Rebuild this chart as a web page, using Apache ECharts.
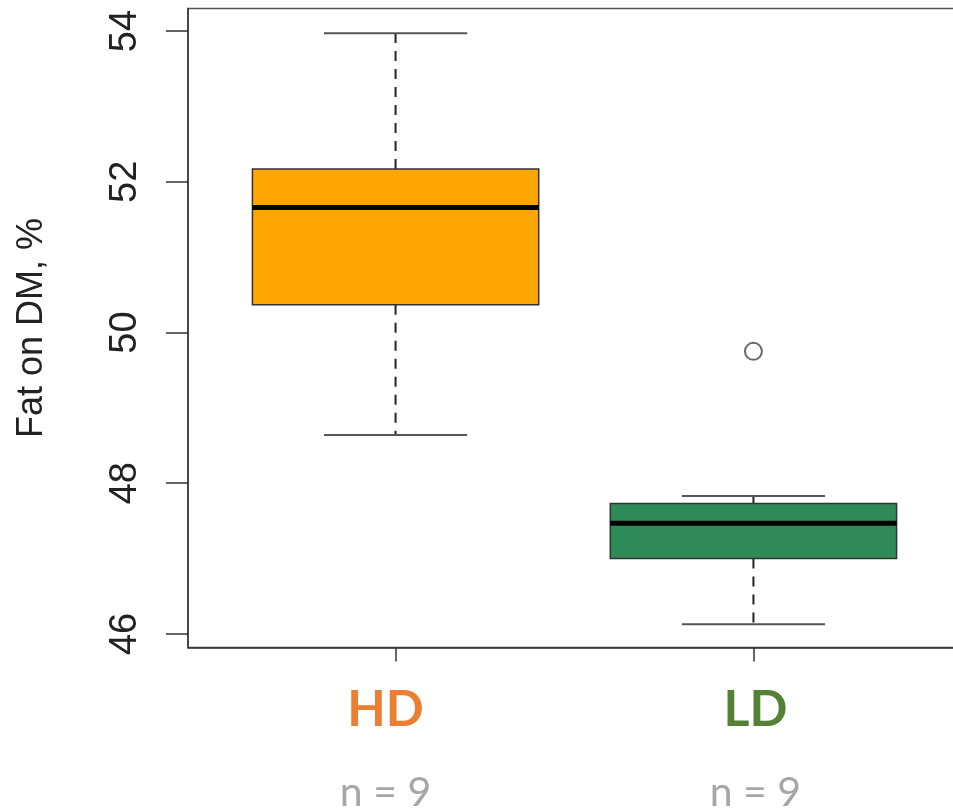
<!DOCTYPE html>
<html><head><meta charset="utf-8">
<script src="https://cdn.jsdelivr.net/npm/echarts@6/dist/echarts.min.js"></script>
<style>html,body{margin:0;padding:0;background:#fff}#c{width:953px;height:808px}</style>
</head><body><div id="c"></div>
<script>
// ---- data ----
const categories = ['HD', 'LD'];
const counts = [9, 9];
const whiskerLow = [48.64, 46.13];
const q1 = [50.37, 47.00];
const median = [51.66, 47.47];
const q3 = [52.17, 47.73];
const whiskerHigh = [53.97, 47.83];
const outlierGroup = ['LD'];
const outlierValue = [49.75];
const yTicks = [46, 48, 50, 52, 54];

// ---- styles ----
const fillColors = ['#FFA500', '#2E8B57'];
const labelColors = ['#ED7D31', '#548235'];
const labelShift = [-10, 2];

const boxData = categories.map((c, i) => [i + 1, whiskerLow[i], q1[i], median[i], q3[i], whiskerHigh[i]]);
const outlierData = outlierGroup.map((g, k) => [categories.indexOf(g) + 1, outlierValue[k]]);
const xTicks = categories.map((c, i) => i + 1);

function renderBox(params, api) {
  const x = api.value(0);
  const i = params.dataIndex;
  const pLo = api.coord([x, api.value(1)]);
  const pQ1 = api.coord([x, api.value(2)]);
  const pMed = api.coord([x, api.value(3)]);
  const pQ3 = api.coord([x, api.value(4)]);
  const pHi = api.coord([x, api.value(5)]);
  const boxW = api.size([0.8, 0])[0];
  const capW = api.size([0.4, 0])[0];
  const cx = pMed[0];
  const dashStyle = { stroke: '#222', lineWidth: 2, lineDash: [10, 8] };
  const capStyle = { stroke: '#555', lineWidth: 2 };
  return {
    type: 'group',
    children: [
      { type: 'line', shape: { x1: cx, y1: pQ3[1], x2: cx, y2: pHi[1] }, style: dashStyle },
      { type: 'line', shape: { x1: cx, y1: pQ1[1], x2: cx, y2: pLo[1] }, style: dashStyle },
      { type: 'line', shape: { x1: cx - capW / 2, y1: pHi[1], x2: cx + capW / 2, y2: pHi[1] }, style: capStyle },
      { type: 'line', shape: { x1: cx - capW / 2, y1: pLo[1], x2: cx + capW / 2, y2: pLo[1] }, style: capStyle },
      { type: 'rect', shape: { x: cx - boxW / 2, y: pQ3[1], width: boxW, height: pQ1[1] - pQ3[1] },
        style: { fill: fillColors[i], stroke: '#333', lineWidth: 1.5 } },
      { type: 'line', shape: { x1: cx - boxW / 2, y1: pMed[1], x2: cx + boxW / 2, y2: pMed[1] },
        style: { stroke: '#000', lineWidth: 5 } }
    ]
  };
}

function pad(i) {
  const s = labelShift[i];
  return s < 0 ? [0, -2 * s, 0, 0] : [0, 0, 0, 2 * s];
}
const rich = {};
categories.forEach((c, i) => {
  rich['c' + i] = { color: labelColors[i], fontFamily: 'Lato', fontWeight: 'bold', fontSize: 50, lineHeight: 125, padding: pad(i) };
  rich['n' + i] = { color: '#A6A6A6', fontFamily: 'Lato', fontSize: 41, lineHeight: 41, padding: pad(i) };
});

const chart = echarts.init(document.getElementById('c'), null, { renderer: 'canvas' });
chart.setOption({
  animation: false,
  backgroundColor: '#fff',
  grid: {
    left: 188, right: -8, top: 8.5, bottom: 160.5,
    show: true, borderColor: '#555', borderWidth: 1.5,
    containLabel: false, outerBoundsMode: 'none'
  },
  xAxis: {
    type: 'value', min: 0.42, max: 2.58,
    splitLine: { show: false },
    axisLine: { show: true, lineStyle: { color: '#333', width: 1.5 } },
    axisTick: { show: true, customValues: xTicks, length: 14, lineStyle: { color: '#333', width: 1.5 } },
    axisLabel: {
      customValues: xTicks, margin: 0,
      formatter: v => { const i = Math.round(v) - 1; return '{c' + i + '|' + categories[i] + '}\n{n' + i + '|n = ' + counts[i] + '}'; },
      rich: rich
    }
  },
  yAxis: {
    type: 'value', min: 45.82, max: 54.3,
    name: 'Fat on DM, %', nameLocation: 'middle', nameGap: 138,
    nameTextStyle: { fontFamily: 'Liberation Sans', fontSize: 36, color: '#222' },
    splitLine: { show: false },
    axisLine: { show: true, lineStyle: { color: '#333', width: 1.5 } },
    axisTick: { show: true, customValues: yTicks, length: 22, lineStyle: { color: '#333', width: 1.5 } },
    axisLabel: { customValues: yTicks, rotate: 90, margin: 43, fontFamily: 'Liberation Sans', fontSize: 38, color: '#222' }
  },
  series: [
    { type: 'custom', coordinateSystem: 'cartesian2d', renderItem: renderBox,
      encode: { x: 0, y: [1, 2, 3, 4, 5] }, data: boxData, clip: false },
    { type: 'scatter', data: outlierData, symbol: 'circle', symbolSize: 17,
      itemStyle: { color: 'rgba(0,0,0,0)', borderColor: '#444', borderWidth: 2 } }
  ]
});
</script></body></html>
